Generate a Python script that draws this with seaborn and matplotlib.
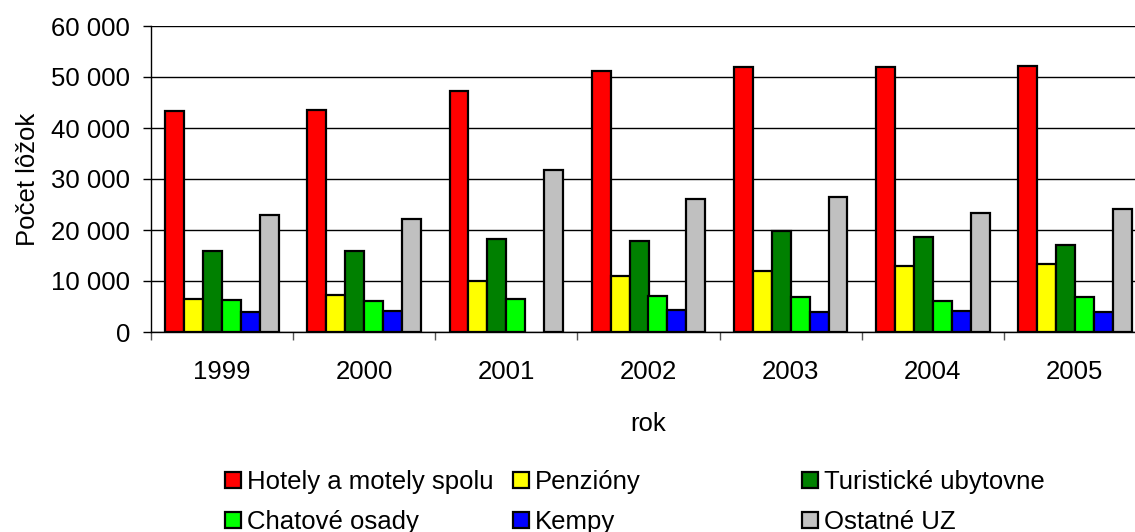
import pandas as pd
import numpy as np
import matplotlib
matplotlib.use('Agg')
import matplotlib.pyplot as plt
import seaborn as sns
from matplotlib.patches import Patch
from matplotlib.ticker import FuncFormatter, FixedLocator

# ── DATA ────────────────────────────────────────────────────────
years = ['1999', '2000', '2001', '2002', '2003', '2004', '2005']
series = ['Hotely a motely spolu', 'Penzióny', 'Turistické ubytovne',
          'Chatové osady', 'Kempy', 'Ostatné UZ']
colors = ['#FF0000', '#FFFF00', '#008000', '#00FF00', '#0000FF', '#C0C0C0']

hotely      = [43300, 43600, 47200, 51200, 51900, 51900, 52100]
penziony    = [6500, 7200, 10000, 11000, 11900, 12900, 13300]
turisticke  = [15800, 15800, 18300, 17900, 19800, 18600, 17000]
chatove     = [6300, 6000, 6400, 7100, 6800, 6100, 6800]
kempy       = [3900, 4200, np.nan, 4400, 3900, 4200, 3900]   # 2001 missing
ostatne     = [23000, 22200, 31800, 26000, 26400, 23300, 24200]

values = [hotely, penziony, turisticke, chatove, kempy, ostatne]

rows = []
for name, vals in zip(series, values):
    for y, v in zip(years, vals):
        rows.append({'rok': y, 'typ': name, 'pocet': v})
df = pd.DataFrame(rows)

# ── PLOT ────────────────────────────────────────────────────────
sns.set_style('white')
plt.rcParams['font.family'] = ['Liberation Sans', 'DejaVu Sans']
for k in ['text.color', 'axes.labelcolor', 'xtick.color', 'ytick.color']:
    plt.rcParams[k] = 'black'

FS = 18.5

fig = plt.figure(figsize=(11.35, 5.32), dpi=100)
ax = fig.add_axes([151/1135, 1-332/532, 995/1135, 306/532])

sns.barplot(data=df, x='rok', y='pocet', hue='typ', hue_order=series,
            palette=colors, order=years, width=0.8, saturation=1,
            edgecolor='black', linewidth=1.6, ax=ax, legend=False, zorder=3)

ax.set_ylim(0, 60000)
ax.set_yticks(np.arange(0, 60001, 10000))
ax.yaxis.set_major_formatter(FuncFormatter(lambda v, p: f"{int(v):,}".replace(',', ' ')))
ax.grid(axis='y', color='black', linewidth=1.0, zorder=0)
ax.set_axisbelow(True)

for s in ['top', 'right']:
    ax.spines[s].set_visible(False)
for s in ['left', 'bottom']:
    ax.spines[s].set_color('black')
    ax.spines[s].set_linewidth(1.0)

ax.tick_params(axis='y', which='major', length=6, width=1, color='black',
               labelsize=FS, pad=9, left=True)
ax.tick_params(axis='x', which='major', length=0, labelsize=FS, pad=20)
ax.xaxis.set_minor_locator(FixedLocator(np.arange(-0.5, len(years), 1)))
ax.tick_params(axis='x', which='minor', length=6, width=1, color='#555555', bottom=True)

ax.set_xlabel('rok', fontsize=FS, labelpad=20)
ax.set_ylabel('Počet lôžok', fontsize=FS, labelpad=8)

# legend: three equal-width columns like the original
handles = [Patch(facecolor=c, edgecolor='black', linewidth=1.6) for c in colors]
col_x = [225/1135, 513/1135, 802/1135]
for i in range(3):
    fig.legend([handles[i], handles[i + 3]], [series[i], series[i + 3]],
               loc='upper left', bbox_to_anchor=(col_x[i], 1 - 470/532),
               frameon=False, fontsize=FS, handlelength=0.62, handleheight=0.62,
               handletextpad=0.25, labelspacing=0.62, borderpad=0, borderaxespad=0)

plt.savefig('out.png', dpi=100)
plt.close()
